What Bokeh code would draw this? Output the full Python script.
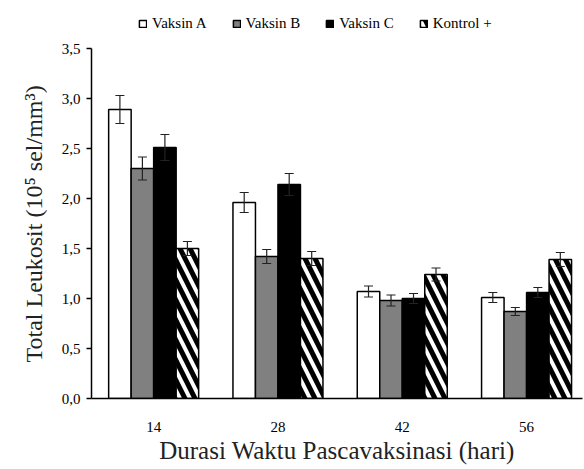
from bokeh.plotting import figure
from bokeh.models import (ColumnDataSource, Range1d, FixedTicker, Whisker, TeeHead,
                          Legend, LegendItem, Title)
from bokeh.embed import file_html
from bokeh.resources import INLINE

days = ["14", "28", "42", "56"]
series = ["Vaksin A", "Vaksin B", "Vaksin C", "Kontrol +"]
vaksin_a = [2.89, 1.96, 1.07, 1.01]
vaksin_b = [2.30, 1.42, 0.98, 0.87]
vaksin_c = [2.51, 2.14, 1.00, 1.06]
kontrol = [1.50, 1.40, 1.24, 1.39]
err_a = [0.14, 0.10, 0.055, 0.05]
err_b = [0.115, 0.07, 0.055, 0.04]
err_c = [0.13, 0.11, 0.05, 0.05]
err_k = [0.07, 0.07, 0.065, 0.07]
y_ticks = [0.0, 0.5, 1.0, 1.5, 2.0, 2.5, 3.0, 3.5]
y_tick_labels = ["0,0", "0,5", "1,0", "1,5", "2,0", "2,5", "3,0", "3,5"]

values = [vaksin_a, vaksin_b, vaksin_c, kontrol]
errors = [err_a, err_b, err_c, err_k]
fills = ["white", "#808080", "black", "white"]
hatches = [" ", " ", " ", "left_diagonal_line"]

SERIF = "Liberation Serif"
BW = 0.181

p = figure(width=583, height=468, output_backend="svg", toolbar_location=None,
           x_range=Range1d(-0.5, 3.45), y_range=Range1d(0, 3.9),
           min_border_left=91, min_border_right=1, min_border_top=8,
           min_border_bottom=70)
p.outline_line_color = None
p.grid.visible = False

items = []
for i, (vals, errs) in enumerate(zip(values, errors)):
    off = (i - 1.5) * BW
    xs = [k + off for k in range(len(days))]
    src = ColumnDataSource(dict(x=xs, top=vals,
                                upper=[v + e for v, e in zip(vals, errs)],
                                lower=[v - e for v, e in zip(vals, errs)]))
    r = p.vbar(x="x", top="top", width=BW, source=src, fill_color=fills[i],
               line_color="black", line_width=1.5,
               hatch_pattern=hatches[i], hatch_color="black",
               hatch_scale=20, hatch_weight=5)
    items.append(LegendItem(label=series[i], renderers=[r]))
    w = Whisker(source=src, base="x", upper="upper", lower="lower",
                line_color="#222222", line_width=1.2, level="overlay",
                upper_head=TeeHead(size=9, line_color="#222222", line_width=1.2),
                lower_head=TeeHead(size=9, line_color="#222222", line_width=1.2))
    p.add_layout(w)

legend = Legend(items=items, orientation="horizontal", location=(47, 366),
                label_text_font=SERIF, label_text_font_size="15px",
                glyph_width=9, glyph_height=9, spacing=25, label_standoff=5,
                padding=2, margin=0, border_line_color=None,
                background_fill_alpha=0, label_text_color="black")
p.add_layout(legend)

p.xaxis.ticker = FixedTicker(ticks=list(range(len(days))))
p.xaxis.major_label_overrides = {i: d for i, d in enumerate(days)}
p.xaxis.major_tick_line_color = None
p.xaxis.minor_tick_line_color = None
p.xaxis.major_label_standoff = 17
p.xaxis.axis_label = "Durasi Waktu Pascavaksinasi (hari)"

p.yaxis.ticker = FixedTicker(ticks=y_ticks)
p.yaxis.bounds = (0, 3.5)
p.yaxis.major_label_overrides = {t: l for t, l in zip(y_ticks, y_tick_labels)}
p.yaxis.major_tick_in = 0
p.yaxis.major_tick_out = 5
p.yaxis.minor_tick_line_color = None
p.yaxis.major_label_standoff = 6

for ax in (p.xaxis, p.yaxis):
    ax.axis_line_color = "black"
    ax.axis_line_width = 1.5
    ax.major_tick_line_width = 1.5
    ax.major_label_text_font = SERIF
    ax.major_label_text_font_size = "15px"
    ax.major_label_text_color = "black"
p.xaxis.axis_label_text_font = SERIF
p.xaxis.axis_label_text_font_style = "normal"
p.xaxis.axis_label_text_color = "#222222"
p.xaxis.axis_label_text_font_size = "25px"
p.xaxis.axis_label_standoff = 2

ytitle = Title(text="Total Leukosit (10\u2075 sel/mm\u00b3)", align="left",
               offset=36, standoff=23, text_font=SERIF, text_font_size="24px",
               text_font_style="normal", text_color="#222222")
p.add_layout(ytitle, "left")

open("out.html", "w").write(file_html(p, INLINE))
